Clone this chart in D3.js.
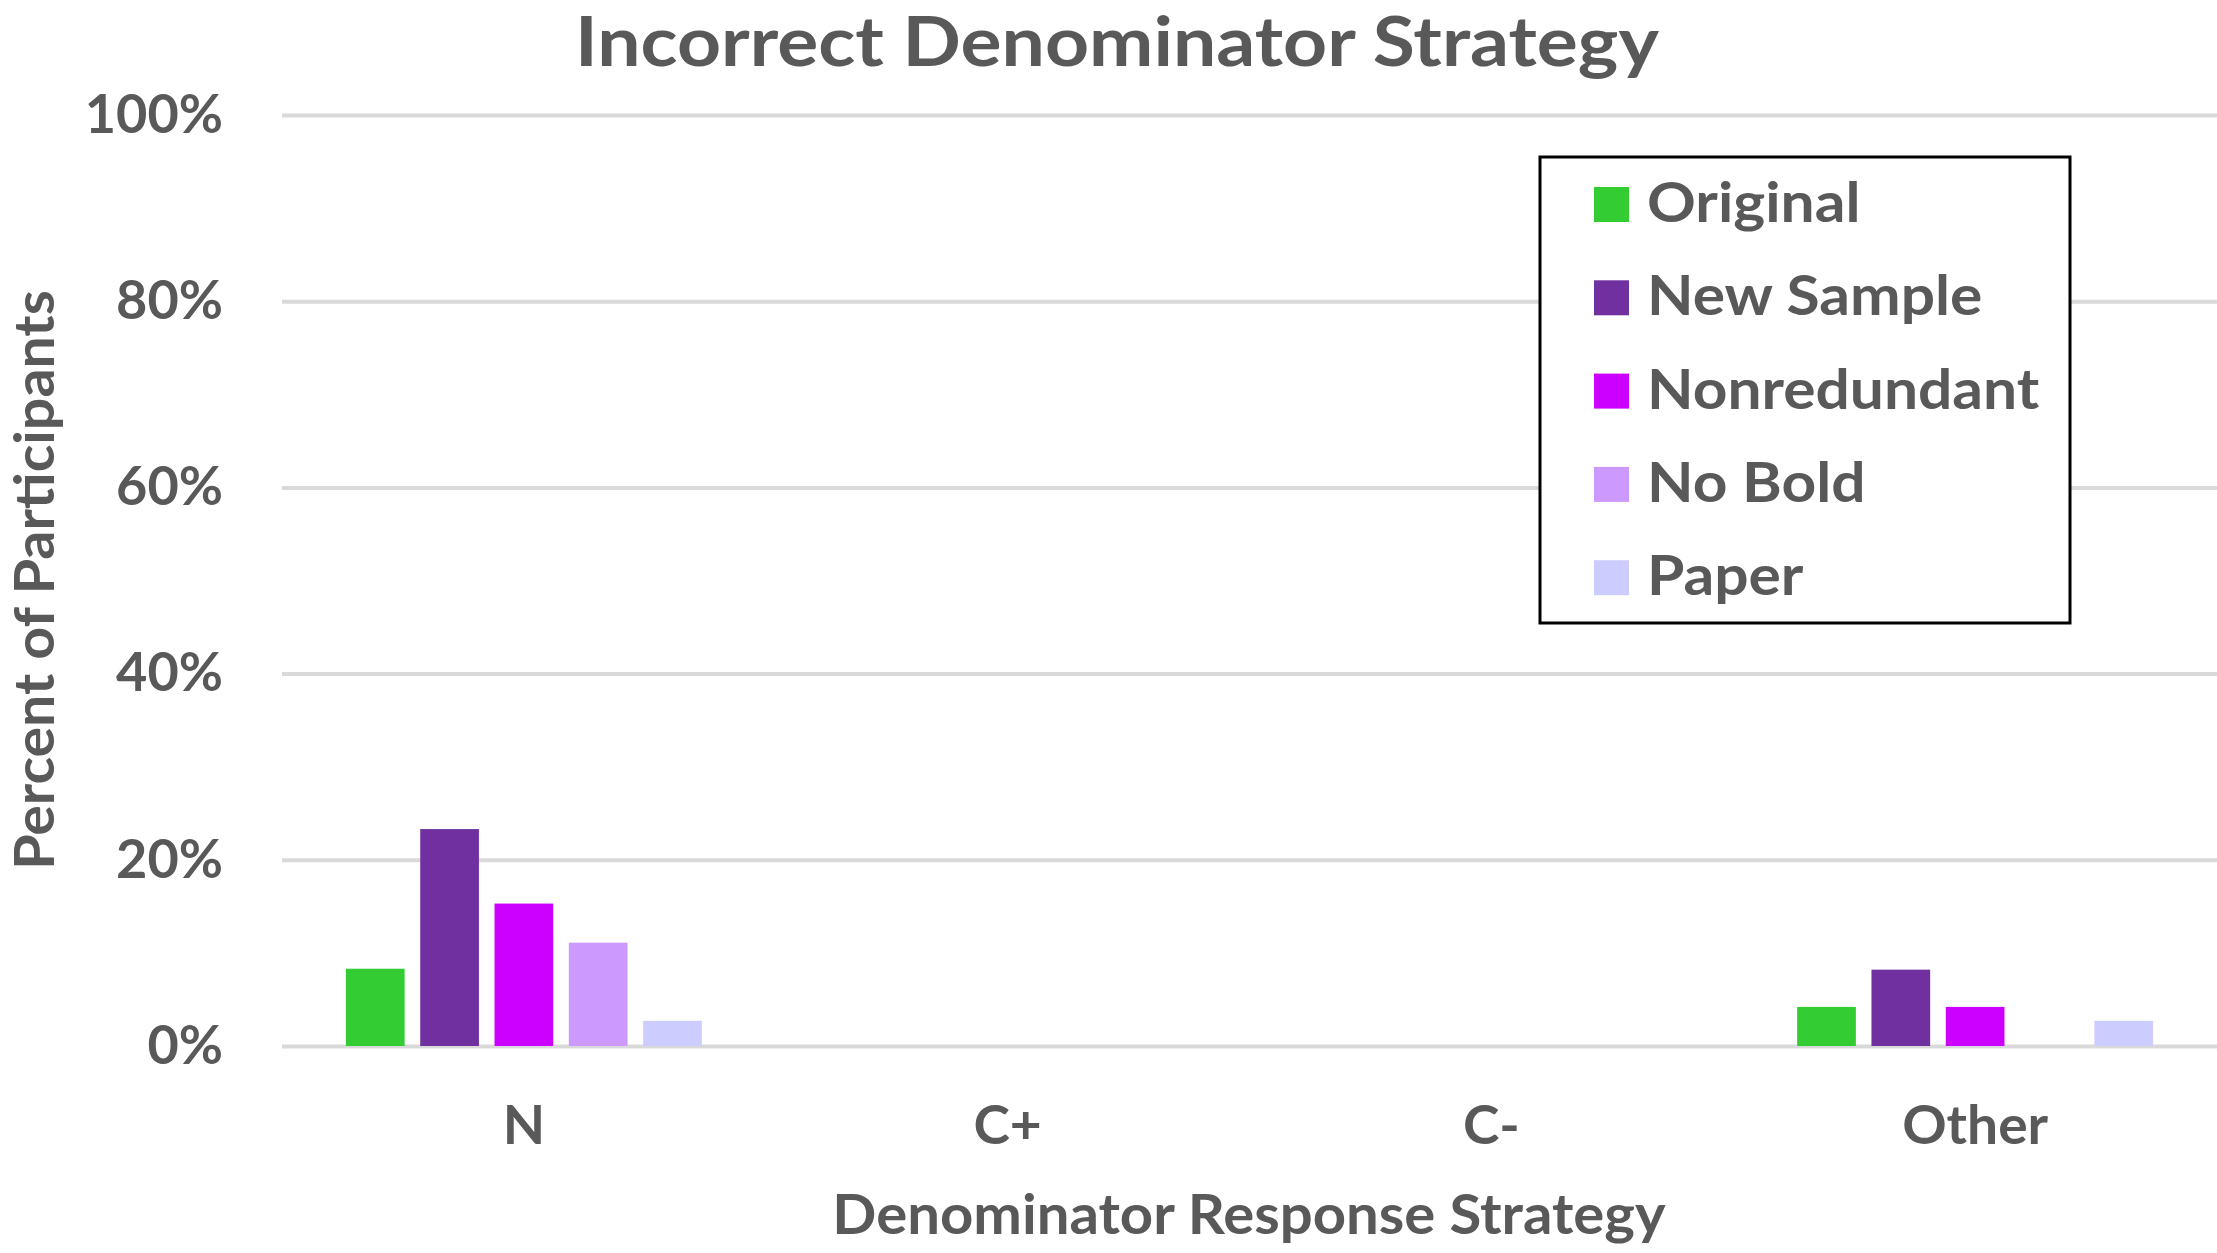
<!DOCTYPE html>
<html>
<head>
<meta charset="utf-8">
<script src="https://cdn.jsdelivr.net/npm/d3@7"></script>
<style>
  body { margin: 0; background: #fff; }
  svg { display: block; }
  text { font-family: Lato, "Open Sans", sans-serif; font-weight: 700; fill: #595959; }
</style>
</head>
<body>
<script>
// chart data
var categories = ["N", "C+", "C-", "Other"];
var seriesNames = ["Original", "New Sample", "Nonredundant", "No Bold", "Paper"];
var seriesColors = ["#33CC33", "#7030A0", "#CC00FF", "#CC99FF", "#CCCCFF"];
var original = [8.3, 0, 0, 4.2];
var newSample = [23.3, 0, 0, 8.2];
var nonredundant = [15.3, 0, 0, 4.2];
var noBold = [11.1, 0, 0, 0];
var paper = [2.7, 0, 0, 2.7];
var yTicks = [0, 20, 40, 60, 80, 100];

var seriesValues = [original, newSample, nonredundant, noBold, paper];

var W = 2217, H = 1253;
var margin = {top: 115, right: 0, bottom: 207, left: 282},
    width = W - margin.left - margin.right,
    height = H - margin.top - margin.bottom;

var svg = d3.select("body").append("svg")
    .attr("width", W)
    .attr("height", H);

var g = svg.append("g")
    .attr("transform", "translate(" + margin.left + "," + margin.top + ")");

// scales
var x0 = d3.scaleBand().domain(categories).range([0, width])
    .paddingInner(0.232).paddingOuter(0.116);
var x1 = d3.scaleBand().domain(seriesNames).range([0, x0.bandwidth()])
    .paddingInner(0.21).paddingOuter(0.105);
var y = d3.scaleLinear().domain([0, 100]).range([height, 0]);

// y axis + gridlines
var yAxis = g.append("g")
    .call(d3.axisLeft(y).tickValues(yTicks).tickSize(-width).tickPadding(59)
        .tickFormat(function(d) { return d + "%"; }));
yAxis.select(".domain").remove();
yAxis.selectAll("line").attr("stroke", "#D9D9D9").attr("stroke-width", 4);
yAxis.selectAll("text").style("font-size", "54px").attr("fill", "#595959")
    .attr("data-sq", 1.0);

// bars
var rows = [];
categories.forEach(function(c, i) {
    seriesNames.forEach(function(s, j) {
        rows.push({cat: c, name: s, value: seriesValues[j][i], color: seriesColors[j]});
    });
});

g.selectAll(".bar")
    .data(rows.filter(function(d) { return d.value > 0; }))
    .enter().append("rect")
    .attr("class", "bar")
    .attr("x", function(d) { return x0(d.cat) + x1(d.name); })
    .attr("width", x1.bandwidth())
    .attr("y", function(d) { return y(d.value); })
    .attr("height", function(d) { return y(0) - y(d.value); })
    .attr("fill", function(d) { return d.color; });

// x axis
var xAxis = g.append("g")
    .attr("transform", "translate(0," + height + ")")
    .call(d3.axisBottom(x0).tickSize(0).tickPadding(60));
xAxis.select(".domain").remove();
xAxis.selectAll("text").style("font-size", "54px").attr("fill", "#595959")
    .attr("data-sq", 1.02);

// title
svg.append("text")
    .attr("x", 1117).attr("y", 66)
    .attr("text-anchor", "middle")
    .style("font-size", "68px")
    .attr("data-sq", 1.13)
    .text("Incorrect Denominator Strategy");

// axis titles
svg.append("text")
    .attr("x", 1249).attr("y", 1234)
    .attr("text-anchor", "middle")
    .style("font-size", "56px")
    .attr("data-sq", 1.037)
    .text("Denominator Response Strategy");

svg.append("text")
    .attr("transform", "translate(54,580) rotate(-90)")
    .attr("text-anchor", "middle")
    .style("font-size", "56px")
    .attr("data-sq", 1.023)
    .text("Percent of Participants");

// legend
var legend = svg.append("g").attr("transform", "translate(1540,157)");
legend.append("rect")
    .attr("width", 530).attr("height", 466)
    .attr("fill", "#fff").attr("stroke", "#000").attr("stroke-width", 3);

var item = legend.selectAll(".item")
    .data(seriesNames)
    .enter().append("g")
    .attr("class", "item")
    .attr("transform", function(d, i) { return "translate(0," + (65 + i * 93.3) + ")"; });

item.append("rect")
    .attr("x", 54).attr("y", -35)
    .attr("width", 35).attr("height", 35)
    .attr("fill", function(d, i) { return seriesColors[i]; });

item.append("text")
    .attr("x", 107).attr("y", 0)
    .style("font-size", "56px")
    .attr("data-sq", 1.08)
    .text(function(d) { return d; });

// Lato's widths differ a little from the original face: stretch text horizontally
svg.selectAll("text").each(function() {
    var k = +this.getAttribute("data-sq") || 1;
    var len = this.getComputedTextLength();
    d3.select(this).attr("textLength", len * k).attr("lengthAdjust", "spacingAndGlyphs");
});
</script>
</body>
</html>
